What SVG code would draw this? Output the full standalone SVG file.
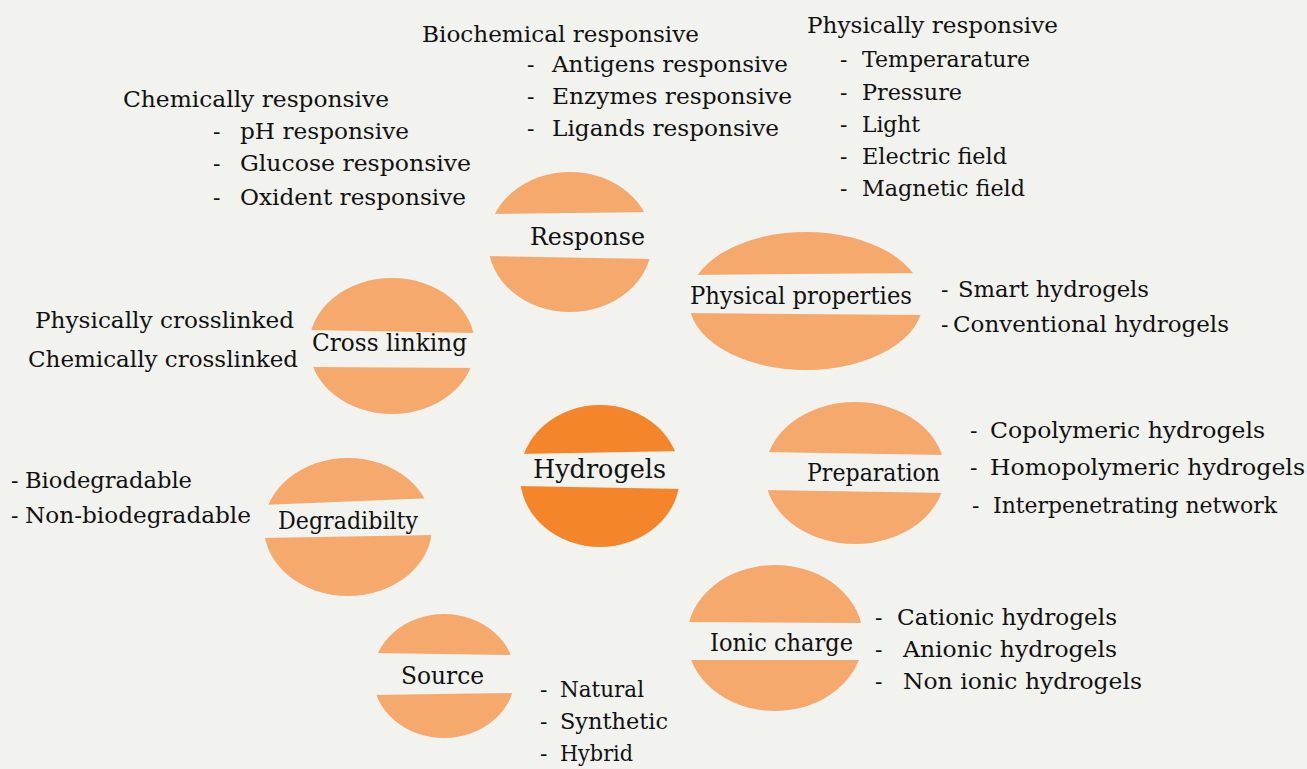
<svg xmlns="http://www.w3.org/2000/svg" width="1307" height="769" viewBox="0 0 1307 769">
<style>
.bg{fill:#f2f2ee}
.node{fill:#f5a96c}
.core{fill:#f5852b}
.band{fill:#f2f2ee}
text{fill:#111;font-family:"DejaVu Serif",serif}
.lbl{font-size:24px}
.big{font-size:26px}
.t{font-size:22px}
</style>
<rect class="bg" x="0" y="0" width="1307" height="769"/>
<g id="connectors"></g>

<g id="node-response">
<ellipse class="node" cx="570" cy="242" rx="82" ry="70"/>
<polygon class="band" points="485,214 655,212 655,259 485,256"/>
<text class="lbl" x="530" y="245" textLength="115" lengthAdjust="spacingAndGlyphs">Response</text>
</g>

<g id="node-hydrogels">
<ellipse class="core" cx="600" cy="476" rx="80" ry="71"/>
<polygon class="band" points="517,454 683,451 683,489 517,486"/>
<text class="big" x="533" y="478" textLength="133" lengthAdjust="spacingAndGlyphs">Hydrogels</text>
</g>

<g id="node-physical">
<ellipse class="node" cx="806" cy="301" rx="117" ry="69"/>
<polygon class="band" points="686,275 926,273 926,315 686,313"/>
<text class="lbl" x="690" y="304" textLength="222" lengthAdjust="spacingAndGlyphs">Physical properties</text>
</g>

<g id="node-crosslinking">
<ellipse class="node" cx="392" cy="346" rx="83" ry="68"/>
<polygon class="band" points="306,330 478,333 478,368 306,367"/>
<text class="lbl" x="312" y="351" textLength="155" lengthAdjust="spacingAndGlyphs">Cross linking</text>
</g>

<g id="node-degradibility">
<ellipse class="node" cx="348" cy="527" rx="84" ry="69"/>
<polygon class="band" points="261,505 435,498 435,535 261,538"/>
<text class="lbl" x="278" y="529" textLength="140" lengthAdjust="spacingAndGlyphs">Degradibilty</text>
</g>

<g id="node-source">
<ellipse class="node" cx="444" cy="676" rx="71" ry="62"/>
<polygon class="band" points="370,653 518,655 518,693 370,695"/>
<text class="lbl" x="401" y="684" textLength="83" lengthAdjust="spacingAndGlyphs">Source</text>
</g>

<g id="node-preparation">
<ellipse class="node" cx="855" cy="473" rx="90" ry="71"/>
<polygon class="band" points="762,452 948,455 948,493 762,490"/>
<text class="lbl" x="807" y="481" textLength="133" lengthAdjust="spacingAndGlyphs">Preparation</text>
</g>

<g id="node-ionic">
<ellipse class="node" cx="775" cy="638" rx="88" ry="73"/>
<polygon class="band" points="684,622 866,623 866,660 684,660"/>
<text class="lbl" x="710" y="651" textLength="143" lengthAdjust="spacingAndGlyphs">Ionic charge</text>
</g>

<g id="list-biochemical">
<text class="t" x="422" y="42" textLength="277" lengthAdjust="spacingAndGlyphs">Biochemical responsive</text>
<text class="t" x="527" y="72">-</text>
<text class="t" x="552" y="72" textLength="236" lengthAdjust="spacingAndGlyphs">Antigens responsive</text>
<text class="t" x="527" y="104">-</text>
<text class="t" x="552" y="104" textLength="240" lengthAdjust="spacingAndGlyphs">Enzymes responsive</text>
<text class="t" x="527" y="136">-</text>
<text class="t" x="552" y="136" textLength="227" lengthAdjust="spacingAndGlyphs">Ligands responsive</text>
</g>

<g id="list-physically">
<text class="t" x="807" y="33" textLength="251" lengthAdjust="spacingAndGlyphs">Physically responsive</text>
<text class="t" x="840" y="67">-</text>
<text class="t" x="862" y="67" textLength="168" lengthAdjust="spacingAndGlyphs">Temperarature</text>
<text class="t" x="840" y="100">-</text>
<text class="t" x="862" y="100" textLength="100" lengthAdjust="spacingAndGlyphs">Pressure</text>
<text class="t" x="840" y="132">-</text>
<text class="t" x="862" y="132" textLength="58" lengthAdjust="spacingAndGlyphs">Light</text>
<text class="t" x="840" y="164">-</text>
<text class="t" x="862" y="164" textLength="145" lengthAdjust="spacingAndGlyphs">Electric field</text>
<text class="t" x="840" y="196">-</text>
<text class="t" x="862" y="196" textLength="163" lengthAdjust="spacingAndGlyphs">Magnetic field</text>
</g>

<g id="list-chemically">
<text class="t" x="123" y="107" textLength="266" lengthAdjust="spacingAndGlyphs">Chemically responsive</text>
<text class="t" x="213" y="139">-</text>
<text class="t" x="240" y="139" textLength="169" lengthAdjust="spacingAndGlyphs">pH responsive</text>
<text class="t" x="213" y="171">-</text>
<text class="t" x="240" y="171" textLength="231" lengthAdjust="spacingAndGlyphs">Glucose responsive</text>
<text class="t" x="213" y="205">-</text>
<text class="t" x="240" y="205" textLength="226" lengthAdjust="spacingAndGlyphs">Oxident responsive</text>
</g>

<g id="list-physical-properties">
<text class="t" x="941" y="297">-</text>
<text class="t" x="958" y="297" textLength="191" lengthAdjust="spacingAndGlyphs">Smart hydrogels</text>
<text class="t" x="941" y="332">-</text>
<text class="t" x="953" y="332" textLength="276" lengthAdjust="spacingAndGlyphs">Conventional hydrogels</text>
</g>

<g id="list-crosslinking">
<text class="t" x="35" y="328" textLength="259" lengthAdjust="spacingAndGlyphs">Physically crosslinked</text>
<text class="t" x="28" y="367" textLength="270" lengthAdjust="spacingAndGlyphs">Chemically crosslinked</text>
</g>

<g id="list-degradibility">
<text class="t" x="11" y="488">-</text>
<text class="t" x="25" y="488" textLength="167" lengthAdjust="spacingAndGlyphs">Biodegradable</text>
<text class="t" x="11" y="523">-</text>
<text class="t" x="25" y="523" textLength="226" lengthAdjust="spacingAndGlyphs">Non-biodegradable</text>
</g>

<g id="list-preparation">
<text class="t" x="970" y="438">-</text>
<text class="t" x="990" y="438" textLength="275" lengthAdjust="spacingAndGlyphs">Copolymeric hydrogels</text>
<text class="t" x="970" y="475">-</text>
<text class="t" x="990" y="475" textLength="315" lengthAdjust="spacingAndGlyphs">Homopolymeric hydrogels</text>
<text class="t" x="972" y="513">-</text>
<text class="t" x="993" y="513" textLength="284" lengthAdjust="spacingAndGlyphs">Interpenetrating network</text>
</g>

<g id="list-ionic">
<text class="t" x="875" y="625">-</text>
<text class="t" x="897" y="625" textLength="220" lengthAdjust="spacingAndGlyphs">Cationic hydrogels</text>
<text class="t" x="875" y="657">-</text>
<text class="t" x="903" y="657" textLength="214" lengthAdjust="spacingAndGlyphs">Anionic hydrogels</text>
<text class="t" x="875" y="689">-</text>
<text class="t" x="903" y="689" textLength="239" lengthAdjust="spacingAndGlyphs">Non ionic hydrogels</text>
</g>

<g id="list-source">
<text class="t" x="540" y="697">-</text>
<text class="t" x="560" y="697" textLength="84" lengthAdjust="spacingAndGlyphs">Natural</text>
<text class="t" x="540" y="729">-</text>
<text class="t" x="560" y="729" textLength="108" lengthAdjust="spacingAndGlyphs">Synthetic</text>
<text class="t" x="540" y="761">-</text>
<text class="t" x="560" y="761" textLength="73" lengthAdjust="spacingAndGlyphs">Hybrid</text>
</g>
</svg>
